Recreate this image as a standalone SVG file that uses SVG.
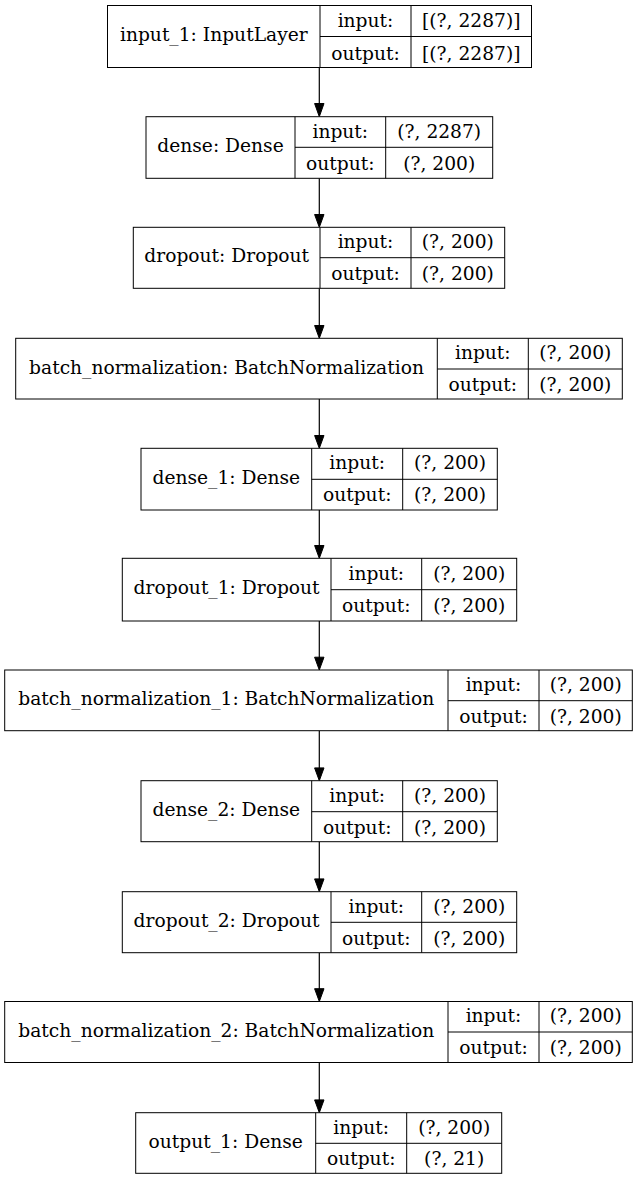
<svg xmlns="http://www.w3.org/2000/svg" width="639" height="1180" viewBox="0 0 639 1180">
<style>
.b{fill:#fff;stroke:#000;stroke-width:1}
.l{stroke:#000;stroke-width:1;fill:none}
text{font-family:"DejaVu Serif","Liberation Serif",serif;font-size:18.67px;fill:#000;text-anchor:middle}
.e{stroke:#000;stroke-width:1.2;fill:none}
.a{fill:#000;stroke:#000;stroke-width:1}
</style>
<rect width="639" height="1180" fill="#fff"/>
<g id="edges">
<line class="e" x1="319.3" y1="67.3" x2="319.3" y2="104"/><polygon class="a" points="319.3,116.7 314.6,103.5 324,103.5"/>
<line class="e" x1="319.3" y1="178.3" x2="319.3" y2="215"/><polygon class="a" points="319.3,227.3 314.6,214.5 324,214.5"/>
<line class="e" x1="319.3" y1="288.3" x2="319.3" y2="326"/><polygon class="a" points="319.3,338.3 314.6,325.5 324,325.5"/>
<line class="e" x1="319.3" y1="399" x2="319.3" y2="436"/><polygon class="a" points="319.3,448.3 314.6,435.5 324,435.5"/>
<line class="e" x1="319.3" y1="510" x2="319.3" y2="546"/><polygon class="a" points="319.3,558.3 314.6,545.5 324,545.5"/>
<line class="e" x1="319.3" y1="621" x2="319.3" y2="658"/><polygon class="a" points="319.3,670 314.6,657.2 324,657.2"/>
<line class="e" x1="319.3" y1="730.7" x2="319.3" y2="768"/><polygon class="a" points="319.3,780.7 314.6,767.9 324,767.9"/>
<line class="e" x1="319.3" y1="841.7" x2="319.3" y2="879"/><polygon class="a" points="319.3,891.7 314.6,878.9 324,878.9"/>
<line class="e" x1="319.3" y1="952.7" x2="319.3" y2="989"/><polygon class="a" points="319.3,1001.5 314.6,988.7 324,988.7"/>
<line class="e" x1="319.3" y1="1062.5" x2="319.3" y2="1100"/><polygon class="a" points="319.3,1112.7 314.6,1099.9 324,1099.9"/>
</g>
<g id="input_1">
<rect class="b" x="107.5" y="5.5" width="424" height="62"/>
<line class="l" x1="320" y1="5.5" x2="320" y2="67.5"/><line class="l" x1="411" y1="5.5" x2="411" y2="67.5"/><line class="l" x1="320" y1="36.5" x2="531.5" y2="36.5"/>
<text x="213.8" y="40.7">input_1: InputLayer</text>
<text x="365.5" y="26.7">input:</text><text x="365.5" y="59.7">output:</text>
<text x="471.3" y="26.7">[(?, 2287)]</text><text x="471.3" y="59.7">[(?, 2287)]</text>
</g>
<g id="dense">
<rect class="b" x="146" y="116.7" width="346.7" height="61.6"/>
<line class="l" x1="295" y1="116.7" x2="295" y2="178.3"/><line class="l" x1="385.7" y1="116.7" x2="385.7" y2="178.3"/><line class="l" x1="295" y1="147.3" x2="492.7" y2="147.3"/>
<text x="220.5" y="152">dense: Dense</text>
<text x="340.3" y="137.5">input:</text><text x="340.3" y="169.5">output:</text>
<text x="439.2" y="137.5">(?, 2287)</text><text x="439.2" y="169.5">(?, 200)</text>
</g>
<g id="dropout">
<rect class="b" x="133.3" y="227.3" width="371.4" height="61"/>
<line class="l" x1="320" y1="227.3" x2="320" y2="288.3"/><line class="l" x1="411" y1="227.3" x2="411" y2="288.3"/><line class="l" x1="320" y1="257.7" x2="504.7" y2="257.7"/>
<text x="226.7" y="262.2">dropout: Dropout</text>
<text x="365.5" y="248">input:</text><text x="365.5" y="280">output:</text>
<text x="457.8" y="248">(?, 200)</text><text x="457.8" y="280">(?, 200)</text>
</g>
<g id="batch_normalization">
<rect class="b" x="15.7" y="338.3" width="606.6" height="60.7"/>
<line class="l" x1="437.3" y1="338.3" x2="437.3" y2="399"/><line class="l" x1="528.3" y1="338.3" x2="528.3" y2="399"/><line class="l" x1="437.3" y1="369" x2="622.3" y2="369"/>
<text x="226.5" y="373.5">batch_normalization: BatchNormalization</text>
<text x="482.8" y="359">input:</text><text x="482.8" y="391">output:</text>
<text x="575.3" y="359">(?, 200)</text><text x="575.3" y="391">(?, 200)</text>
</g>
<g id="dense_1">
<rect class="b" x="141" y="448.3" width="356.3" height="61.7"/>
<line class="l" x1="311.7" y1="448.3" x2="311.7" y2="510"/><line class="l" x1="402.7" y1="448.3" x2="402.7" y2="510"/><line class="l" x1="311.7" y1="479.3" x2="497.3" y2="479.3"/>
<text x="226.3" y="483.8">dense_1: Dense</text>
<text x="357.2" y="469.3">input:</text><text x="357.2" y="501.3">output:</text>
<text x="450" y="469.3">(?, 200)</text><text x="450" y="501.3">(?, 200)</text>
</g>
<g id="dropout_1">
<rect class="b" x="122.3" y="558.3" width="394.4" height="62.7"/>
<line class="l" x1="331" y1="558.3" x2="331" y2="621"/><line class="l" x1="421.7" y1="558.3" x2="421.7" y2="621"/><line class="l" x1="331" y1="589.7" x2="516.7" y2="589.7"/>
<text x="226.6" y="594.2">dropout_1: Dropout</text>
<text x="376.3" y="579.5">input:</text><text x="376.3" y="612">output:</text>
<text x="469.2" y="579.5">(?, 200)</text><text x="469.2" y="612">(?, 200)</text>
</g>
<g id="batch_normalization_1">
<rect class="b" x="4.7" y="670" width="627.6" height="60.7"/>
<line class="l" x1="448" y1="670" x2="448" y2="730.7"/><line class="l" x1="539" y1="670" x2="539" y2="730.7"/><line class="l" x1="448" y1="700.7" x2="632.3" y2="700.7"/>
<text x="226.3" y="705.2">batch_normalization_1: BatchNormalization</text>
<text x="493.5" y="690.7">input:</text><text x="493.5" y="722.5">output:</text>
<text x="585.7" y="690.7">(?, 200)</text><text x="585.7" y="722.5">(?, 200)</text>
</g>
<g id="dense_2">
<rect class="b" x="141" y="780.7" width="356.3" height="61"/>
<line class="l" x1="311.7" y1="780.7" x2="311.7" y2="841.7"/><line class="l" x1="402.7" y1="780.7" x2="402.7" y2="841.7"/><line class="l" x1="311.7" y1="811.7" x2="497.3" y2="811.7"/>
<text x="226.3" y="816.2">dense_2: Dense</text>
<text x="357.2" y="801.7">input:</text><text x="357.2" y="833.5">output:</text>
<text x="450" y="801.7">(?, 200)</text><text x="450" y="833.5">(?, 200)</text>
</g>
<g id="dropout_2">
<rect class="b" x="122.3" y="891.7" width="394.4" height="61"/>
<line class="l" x1="331" y1="891.7" x2="331" y2="952.7"/><line class="l" x1="421.7" y1="891.7" x2="421.7" y2="952.7"/><line class="l" x1="331" y1="922.3" x2="516.7" y2="922.3"/>
<text x="226.6" y="926.8">dropout_2: Dropout</text>
<text x="376.3" y="912.5">input:</text><text x="376.3" y="944.5">output:</text>
<text x="469.2" y="912.5">(?, 200)</text><text x="469.2" y="944.5">(?, 200)</text>
</g>
<g id="batch_normalization_2">
<rect class="b" x="4.7" y="1001.5" width="627.6" height="61"/>
<line class="l" x1="448" y1="1001.5" x2="448" y2="1062.5"/><line class="l" x1="539" y1="1001.5" x2="539" y2="1062.5"/><line class="l" x1="448" y1="1032" x2="632.3" y2="1032"/>
<text x="226.3" y="1036.5">batch_normalization_2: BatchNormalization</text>
<text x="493.5" y="1022.2">input:</text><text x="493.5" y="1054">output:</text>
<text x="585.7" y="1022.2">(?, 200)</text><text x="585.7" y="1054">(?, 200)</text>
</g>
<g id="output_1">
<rect class="b" x="135.7" y="1112.7" width="366" height="60.6"/>
<line class="l" x1="315.7" y1="1112.7" x2="315.7" y2="1173.3"/><line class="l" x1="406.7" y1="1112.7" x2="406.7" y2="1173.3"/><line class="l" x1="315.7" y1="1143.3" x2="501.7" y2="1143.3"/>
<text x="225.7" y="1147.8">output_1: Dense</text>
<text x="361.2" y="1133.5">input:</text><text x="361.2" y="1165">output:</text>
<text x="454.2" y="1133.5">(?, 200)</text><text x="454.2" y="1165">(?, 21)</text>
</g>
</svg>
